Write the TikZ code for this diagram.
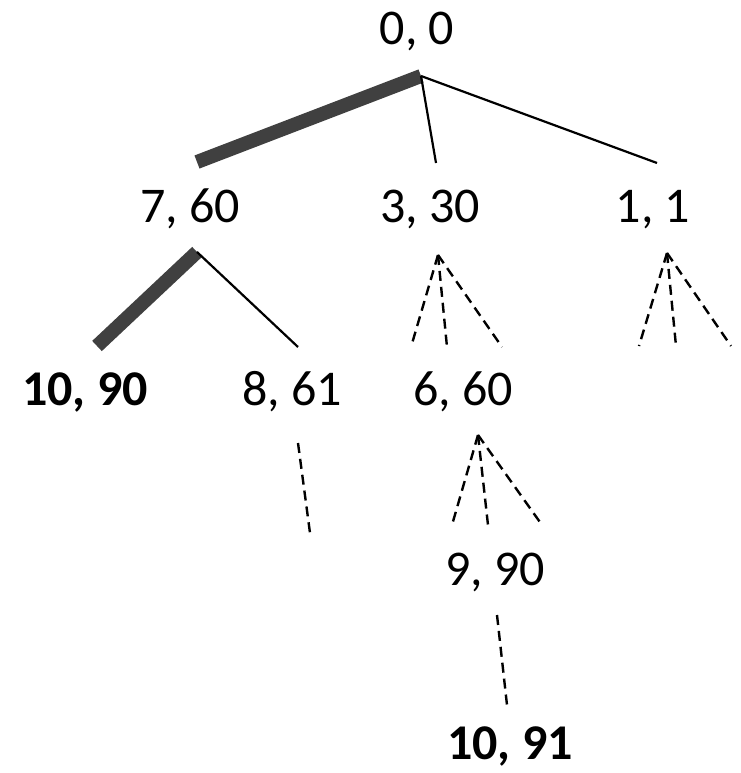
\documentclass[tikz,border=0pt]{standalone}
\usepackage{fontspec}
\setmainfont{Carlito}
\begin{document}
\begin{tikzpicture}[x=1pt,y=-1pt,
  lbl/.style={anchor=base,inner sep=0pt,font=\fontsize{50}{60}\selectfont},
  blbl/.style={lbl,font=\fontsize{50}{60}\selectfont\bfseries},
  best/.style={line width=14pt,draw={rgb,255:red,64;green,64;blue,64}},
  edge/.style={line width=2.2pt,draw=black},
  dedge/.style={line width=2.4pt,draw=black,dash pattern=on 10pt off 6pt}]
\useasboundingbox (0,0) rectangle (740,773);
% labels
\node[lbl] (n0) at (417,45) {0, 0};
\node[lbl] (n1) at (190,222) {7, 60};
\node[lbl] (n2) at (430,222) {3, 30};
\node[lbl] (n3) at (653,222) {1, 1};
\node[blbl] (n4) at (85,405) {10, 90};
\node[lbl] (n5) at (292,405) {8, 61};
\node[lbl] (n6) at (463,405) {6, 60};
\node[lbl] (n7) at (495,585) {9, 90};
\node[blbl] (n8) at (510,759) {10, 91};
% connector ends
\coordinate (r0) at (421,76);
\coordinate (t1) at (197,162);
\coordinate (t2) at (436,163);
\coordinate (t3) at (657,163);
\coordinate (b1) at (197,252);
\coordinate (t4) at (97,346);
\coordinate (t5) at (298,347);
\coordinate (b5) at (298,443);
\coordinate (e5) at (310,533);
\coordinate (b2) at (438,255);
\coordinate (e2a) at (411,347);
\coordinate (e2b) at (447,347);
\coordinate (e2c) at (502,347);
\coordinate (b3) at (667,253);
\coordinate (e3a) at (639,346);
\coordinate (e3b) at (676,346);
\coordinate (e3c) at (731,346);
\coordinate (b6) at (478,435);
\coordinate (e6a) at (452,525);
\coordinate (e6b) at (488,525);
\coordinate (e6c) at (542,525);
\coordinate (b7) at (497,615);
\coordinate (t8) at (507,705);
% edges
\draw[best] (r0) -- (t1);
\draw[edge] (r0) -- (t2);
\draw[edge] (r0) -- (t3);
\draw[best] (b1) -- (t4);
\draw[edge] (b1) -- (t5);
\draw[dedge] (b5) -- (e5);
\draw[dedge] (b2) -- (e2a);
\draw[dedge] (b2) -- (e2b);
\draw[dedge] (b2) -- (e2c);
\draw[dedge] (b3) -- (e3a);
\draw[dedge] (b3) -- (e3b);
\draw[dedge] (b3) -- (e3c);
\draw[dedge] (b6) -- (e6a);
\draw[dedge] (b6) -- (e6b);
\draw[dedge] (b6) -- (e6c);
\draw[dedge] (b7) -- (t8);
\end{tikzpicture}
\end{document}
